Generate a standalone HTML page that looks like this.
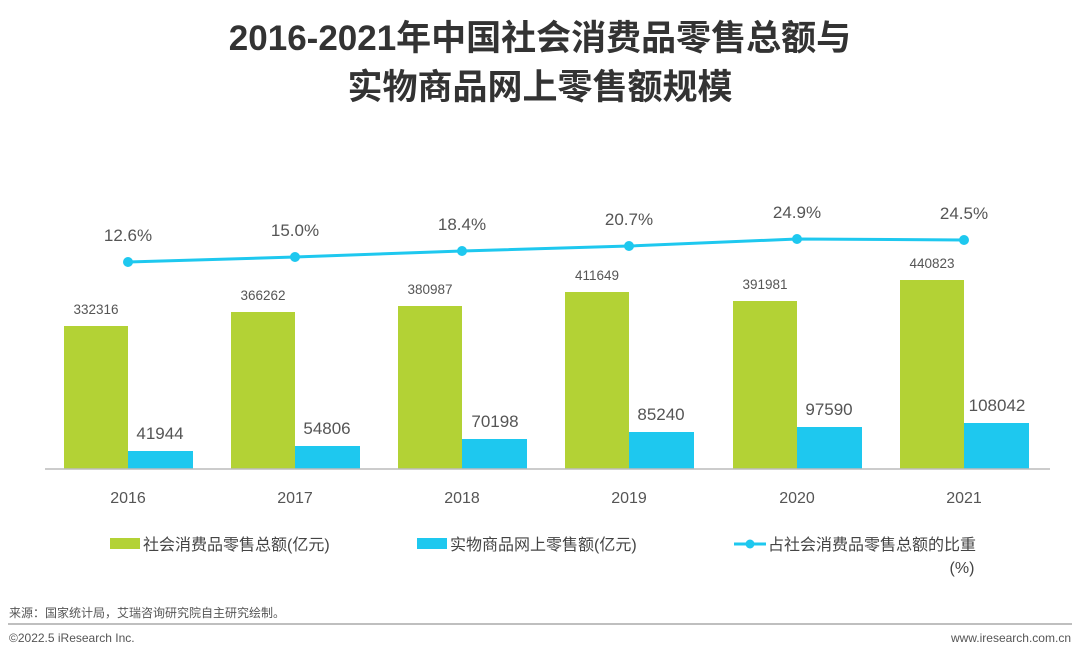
<!DOCTYPE html>
<html><head><meta charset="utf-8"><style>
body{margin:0;background:#fff;}
svg text{font-family:"Liberation Sans","Noto Sans CJK SC",sans-serif;}
</style></head><body>
<svg width="1080" height="667" xmlns="http://www.w3.org/2000/svg">
<text x="540" y="50" text-anchor="middle" font-size="35" font-weight="bold" fill="#333">2016-2021年中国社会消费品零售总额与</text>
<text x="540" y="99" text-anchor="middle" font-size="35" font-weight="bold" fill="#333">实物商品网上零售额规模</text>
<g fill="#b3d235">
<rect x="64" y="326" width="64" height="143"/>
<rect x="231" y="312" width="64" height="157"/>
<rect x="398" y="306" width="64" height="163"/>
<rect x="565" y="292" width="64" height="177"/>
<rect x="733" y="301" width="64" height="168"/>
<rect x="900" y="280" width="64" height="189"/>
</g>
<g fill="#1ec8ef">
<rect x="128" y="451" width="65" height="18"/>
<rect x="295" y="446" width="65" height="23"/>
<rect x="462" y="439" width="65" height="30"/>
<rect x="629" y="432" width="65" height="37"/>
<rect x="797" y="427" width="65" height="42"/>
<rect x="964" y="423" width="65" height="46"/>
</g>
<line x1="45" y1="469" x2="1050" y2="469" stroke="#bbb" stroke-width="1.5"/>
<g font-size="13.5" fill="#555" text-anchor="middle">
<text x="96" y="314">332316</text><text x="263" y="300">366262</text><text x="430" y="294">380987</text>
<text x="597" y="280">411649</text><text x="765" y="289">391981</text><text x="932" y="268">440823</text>
</g>
<g font-size="17" fill="#555" text-anchor="middle">
<text x="160" y="439">41944</text><text x="327" y="434">54806</text><text x="495" y="427">70198</text>
<text x="661" y="420">85240</text><text x="829" y="415">97590</text><text x="997" y="411">108042</text>
</g>
<polyline points="128,262 295,257 462,251 629,246 797,239 964,240" fill="none" stroke="#1ec8ef" stroke-width="3"/>
<g fill="#1ec8ef">
<circle cx="128" cy="262" r="5"/><circle cx="295" cy="257" r="5"/><circle cx="462" cy="251" r="5"/>
<circle cx="629" cy="246" r="5"/><circle cx="797" cy="239" r="5"/><circle cx="964" cy="240" r="5"/>
</g>
<g font-size="17" fill="#555" text-anchor="middle">
<text x="128" y="241">12.6%</text><text x="295" y="236">15.0%</text><text x="462" y="230">18.4%</text>
<text x="629" y="225">20.7%</text><text x="797" y="218">24.9%</text><text x="964" y="219">24.5%</text>
</g>
<g font-size="16" fill="#555" text-anchor="middle">
<text x="128" y="503">2016</text><text x="295" y="503">2017</text><text x="462" y="503">2018</text>
<text x="629" y="503">2019</text><text x="797" y="503">2020</text><text x="964" y="503">2021</text>
</g>
<rect x="110" y="538" width="30" height="11" fill="#b3d235"/>
<text x="143" y="550" font-size="16" fill="#444">社会消费品零售总额(亿元)</text>
<rect x="417" y="538" width="30" height="11" fill="#1ec8ef"/>
<text x="450" y="550" font-size="16" fill="#444">实物商品网上零售额(亿元)</text>
<line x1="734" y1="544" x2="766" y2="544" stroke="#1ec8ef" stroke-width="3"/>
<circle cx="750" cy="544" r="4.5" fill="#1ec8ef"/>
<text x="768" y="550" font-size="16" fill="#444">占社会消费品零售总额的比重</text>
<text x="962" y="573" font-size="16" fill="#444" text-anchor="middle">(%)</text>
<text x="9" y="617" font-size="12" fill="#555">来源：国家统计局，艾瑞咨询研究院自主研究绘制。</text>
<line x1="8" y1="624" x2="1072" y2="624" stroke="#aaa" stroke-width="1.5"/>
<text x="9" y="642" font-size="12" fill="#555">©2022.5 iResearch Inc.</text>
<text x="1071" y="642" font-size="12" fill="#555" text-anchor="end">www.iresearch.com.cn</text>
</svg>
</body></html>
